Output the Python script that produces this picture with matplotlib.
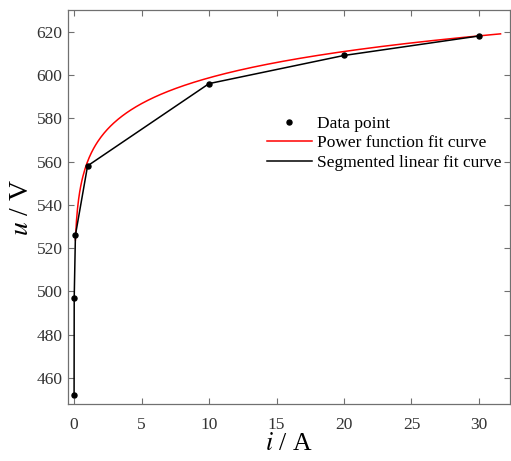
import matplotlib
matplotlib.use("Agg")
import matplotlib.pyplot as plt
import numpy as np

# measured points (current in A, voltage in V)
current = [0.001, 0.01, 0.1, 1, 10, 20, 30]
voltage = [452, 497, 526, 558, 596, 609, 618]

# power-function fit u = a * i**b
fit_a = 560.0
fit_b = 0.029
fit_range = (0.1, 31.6)

x_ticks = [0, 5, 10, 15, 20, 25, 30]
y_ticks = [460, 480, 500, 520, 540, 560, 580, 600, 620]

plt.rcParams.update(
    {
        "font.family": ["Liberation Serif", "DejaVu Serif"],
        "mathtext.fontset": "stix",
        "font.size": 12.5,
        "xtick.direction": "in",
        "ytick.direction": "in",
        "xtick.top": True,
        "ytick.right": True,
        "xtick.color": "#707070",
        "ytick.color": "#707070",
        "xtick.labelcolor": "#333333",
        "ytick.labelcolor": "#333333",
        "axes.edgecolor": "#707070",
    }
)

fig = plt.figure(figsize=(5.11, 4.61), dpi=100)
ax = fig.add_axes([68 / 511, 57 / 461, 442 / 511, 394 / 461])

i_fit = np.linspace(fit_range[0], fit_range[1], 400)
u_fit = fit_a * i_fit ** fit_b

ax.plot(current, voltage, "o", color="black", ms=3.6, label="Data point", zorder=4)
ax.plot(i_fit, u_fit, color="red", lw=1.1, label="Power function fit curve", zorder=2)
ax.plot(current, voltage, color="black", lw=1.1, label="Segmented linear fit curve", zorder=3)

ax.set_xlim(-0.45, 32.3)
ax.set_ylim(448, 630)
ax.set_xticks(x_ticks)
ax.set_yticks(y_ticks)
ax.tick_params(length=4, width=0.8, labelsize=12.5)
ax.tick_params(axis="x", pad=9)
ax.tick_params(axis="y", pad=4)
for s in ax.spines.values():
    s.set_linewidth(0.9)

ax.set_xlabel("$i$ / A", fontsize=18.5, labelpad=0)
ax.set_ylabel("$u$ / V", fontsize=20, labelpad=2)

ax.legend(
    loc="upper left",
    bbox_to_anchor=(0.45, 0.732),
    frameon=False,
    fontsize=12.5,
    handlelength=2.6,
    handletextpad=0.3,
    labelspacing=0.2,
    borderpad=0,
    borderaxespad=0,
)

fig.savefig("out.png", dpi=100)
